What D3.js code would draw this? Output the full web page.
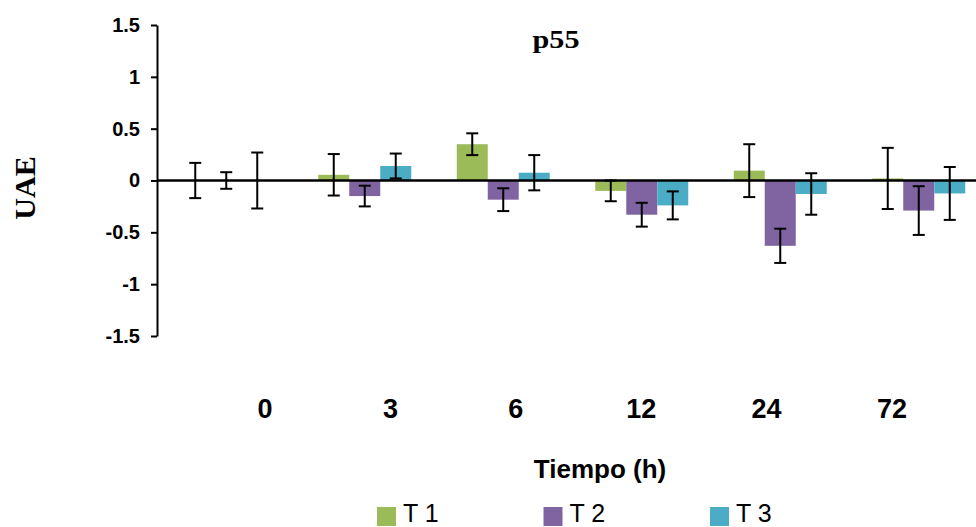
<!DOCTYPE html>
<html>
<head>
<meta charset="utf-8">
<script src="https://cdn.jsdelivr.net/npm/d3@7"></script>
<style>
    body { margin: 0; background: #fff; }
    svg { display: block; }
</style>
</head>
<body>
<div id="chart"></div>
<script>

    // data
    var categories = [ '0', '3', '6', '12', '24', '72' ];
    var series = [ 'T 1', 'T 2', 'T 3' ];
    var t1 = [ 0, 0.055, 0.35, -0.10, 0.095, 0.02 ];
    var t2 = [ 0, -0.15, -0.185, -0.33, -0.63, -0.29 ];
    var t3 = [ 0, 0.14, 0.075, -0.24, -0.13, -0.125 ];
    var err1 = [ 0.17, 0.2, 0.105, 0.1, 0.255, 0.295 ];
    var err2 = [ 0.08, 0.1, 0.11, 0.115, 0.165, 0.235 ];
    var err3 = [ 0.27, 0.12, 0.17, 0.135, 0.2, 0.255 ];
    var yTicks = [ -1.5, -1, -0.5, 0, 0.5, 1, 1.5 ];
    var colors = [ '#9bbb59', '#8064a2', '#4bacc6' ];

    var width = 976,
        height = 527;

    var values = [ t1, t2, t3 ];
    var errors = [ err1, err2, err3 ];

    var svg = d3.select('#chart').append('svg')
        .attr('width', width)
        .attr('height', height);

    var y = d3.scaleLinear()
        .domain([ -1.5, 1.5 ])
        .range([ 336, 25 ]);

    // plot area runs past the right edge, the picture is cropped there
    var x0 = d3.scaleBand()
        .domain( categories )
        .range([ 157, 988 ]);

    var x1 = d3.scaleBand()
        .domain( series )
        .range([ 0, 93 ]);

    // category labels sit on their own even spacing
    var xLabel = d3.scalePoint()
        .domain( categories )
        .range([ 265, 892 ]);

    var rows = [];
    categories.forEach( function ( c, i ) {
        series.forEach( function ( s, j ) {
            rows.push({ cat: c, ser: s, j: j, v: values[ j ][ i ], e: errors[ j ][ i ] });
        });
    });

    function barX ( d ) {
        return x0( d.cat ) + ( x0.bandwidth() - 93 ) / 2 + x1( d.ser );
    }

    // bars
    svg.append('g').selectAll('rect')
        .data( rows )
        .enter().append('rect')
        .attr('x', barX )
        .attr('width', x1.bandwidth())
        .attr('y', function ( d ) { return y( Math.max( 0, d.v ) ); })
        .attr('height', function ( d ) { return Math.abs( y( d.v ) - y( 0 ) ); })
        .style('fill', function ( d ) { return colors[ d.j ]; });

    // zero line
    svg.append('line')
        .attr('x1', 157)
        .attr('x2', width)
        .attr('y1', y( 0 ))
        .attr('y2', y( 0 ))
        .style('stroke', '#000')
        .style('stroke-width', 2.5);

    // error bars
    var eb = svg.append('g').selectAll('g')
        .data( rows )
        .enter().append('g')
        .attr('transform', function ( d ) { return 'translate(' + ( barX( d ) + x1.bandwidth() / 2 ) + ',0)'; })
        .style('stroke', '#000')
        .style('stroke-width', 2);

    eb.append('line')
        .attr('y1', function ( d ) { return y( d.v + d.e ); })
        .attr('y2', function ( d ) { return y( d.v - d.e ); });

    eb.append('line')
        .attr('x1', -6).attr('x2', 6)
        .attr('y1', function ( d ) { return y( d.v + d.e ); })
        .attr('y2', function ( d ) { return y( d.v + d.e ); });

    eb.append('line')
        .attr('x1', -6).attr('x2', 6)
        .attr('y1', function ( d ) { return y( d.v - d.e ); })
        .attr('y2', function ( d ) { return y( d.v - d.e ); });

    // y axis
    var yAxis = svg.append('g')
        .attr('transform', 'translate(157,0)')
        .call( d3.axisLeft( y )
            .tickValues( yTicks )
            .tickFormat( function ( d ) { return String( d ); })
            .tickSize( 6 )
            .tickSizeOuter( 0 )
            .tickPadding( 11 ) );

    yAxis.select('.domain')
        .style('stroke-width', 2);

    yAxis.selectAll('.tick line')
        .style('stroke-width', 2);

    yAxis.selectAll('text')
        .style('font-family', 'Liberation Sans, Arial, sans-serif')
        .style('font-weight', 'bold')
        .style('font-size', '20px')
        .style('fill', '#000');

    // category labels
    svg.append('g').selectAll('text')
        .data( categories )
        .enter().append('text')
        .attr('x', function ( d ) { return xLabel( d ); })
        .attr('y', 418)
        .attr('text-anchor', 'middle')
        .style('font-family', 'Liberation Sans, Arial, sans-serif')
        .style('font-weight', 'bold')
        .style('font-size', '27px')
        .text( function ( d ) { return d; });

    // titles
    svg.append('text')
        .attr('x', 556)
        .attr('y', 48)
        .attr('text-anchor', 'middle')
        .attr('textLength', 47)
        .attr('lengthAdjust', 'spacingAndGlyphs')
        .style('font-family', 'Liberation Serif, Times New Roman, serif')
        .style('font-weight', 'bold')
        .style('font-size', '26px')
        .text('p55');

    svg.append('text')
        .attr('transform', 'translate(35,188) rotate(-90)')
        .attr('text-anchor', 'middle')
        .style('font-family', 'Liberation Serif, Times New Roman, serif')
        .style('font-weight', 'bold')
        .style('font-size', '30px')
        .text('UAE');

    svg.append('text')
        .attr('x', 600)
        .attr('y', 478)
        .attr('text-anchor', 'middle')
        .style('font-family', 'Liberation Sans, Arial, sans-serif')
        .style('font-weight', 'bold')
        .style('font-size', '26px')
        .text('Tiempo (h)');

    // legend
    var legendX = d3.scalePoint()
        .domain( series )
        .range([ 377, 710 ]);

    var lg = svg.append('g').selectAll('g')
        .data( series )
        .enter().append('g')
        .attr('transform', function ( d ) { return 'translate(' + legendX( d ) + ',507)'; });

    lg.append('rect')
        .attr('width', 19)
        .attr('height', 19)
        .style('fill', function ( d, i ) { return colors[ i ]; });

    lg.append('text')
        .attr('x', 26)
        .attr('y', 15)
        .style('font-family', 'Liberation Sans, Arial, sans-serif')
        .style('font-size', '25px')
        .text( function ( d ) { return d; });

</script>
</body>
</html>
